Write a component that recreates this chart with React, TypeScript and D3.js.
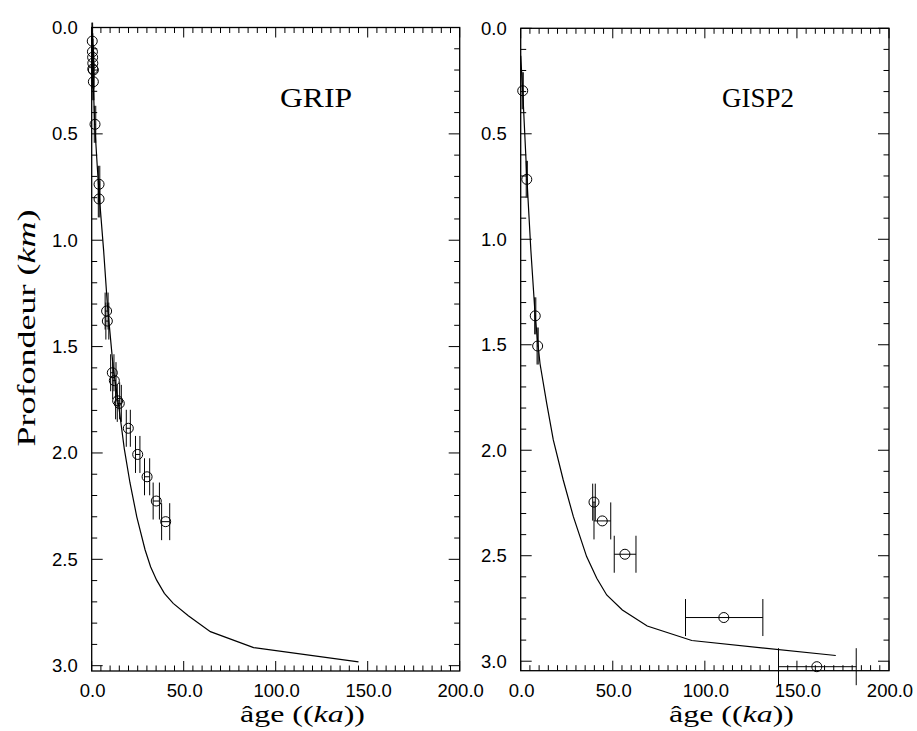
import React from "react";
import * as d3 from "d3";

// GRIP data (age ka, depth km, age error ka)
const gripAge = [0.3, 0.4, 0.5, 0.6, 0.6, 0.9, 0.9, 1.8, 4.0, 4.0, 8.1, 8.5, 11.2, 12.3, 14.1, 15.0, 19.9, 25.0, 30.1, 35.1, 40.2];
const gripDepth = [0.064, 0.114, 0.14, 0.168, 0.195, 0.2, 0.255, 0.455, 0.737, 0.806, 1.333, 1.38, 1.623, 1.66, 1.755, 1.767, 1.884, 2.007, 2.112, 2.226, 2.323];
const gripAgeErr = [0.2, 0.2, 0.2, 0.3, 0.3, 0.3, 0.3, 0.4, 0.4, 0.4, 0.8, 0.8, 0.9, 0.9, 1.1, 1.1, 1.1, 1.2, 1.4, 1.7, 2.2];
const gripModelAge = [0, 0.6, 1.6, 3.0, 4.2, 6.5, 8.5, 11.7, 15, 17.7, 20.8, 24.5, 29, 32, 35.3, 39.5, 44.3, 52.5, 64.5, 88, 145];
const gripModelDepth = [0, 0.2, 0.45, 0.65, 0.8, 1.05, 1.3, 1.6, 1.8, 1.98, 2.14, 2.3, 2.455, 2.535, 2.598, 2.66, 2.707, 2.765, 2.84, 2.915, 2.982];

// GISP2 data
const gispAge = [1.1, 3.3, 7.9, 9.2, 39.8, 44.3, 56.6, 110.3, 160.8];
const gispDepth = [0.296, 0.716, 1.363, 1.506, 2.246, 2.335, 2.493, 2.793, 3.026];
const gispAgeLo = [0.8, 3.0, 7.6, 8.9, 39.1, 39.8, 50.8, 89.5, 140];
const gispAgeHi = [1.4, 3.6, 8.2, 9.5, 40.5, 48.9, 62.6, 131.5, 182.2];
const gispModelAge = [0, 1.1, 3.3, 5.5, 8.0, 10.5, 14.1, 17.7, 23.1, 28.6, 35.8, 41.3, 46.7, 55.2, 68.7, 92.9, 171.1];
const gispModelDepth = [0.13, 0.3, 0.7, 1.05, 1.38, 1.59, 1.777, 1.951, 2.141, 2.315, 2.504, 2.607, 2.686, 2.757, 2.833, 2.902, 2.973];

const xMajorTicks = [0, 50, 100, 150, 200];
const yMajorTicks = [0, 0.5, 1.0, 1.5, 2.0, 2.5, 3.0];
const panelTitles = ["GRIP", "GISP2"];

type PanelProps = {
  x0: number; x1: number; y0: number; y1: number; yMax: number;
  pts: { a: number; d: number; lo: number; hi: number }[];
  model: [number, number][];
  title: string; titleX: number; labelX: number;
};

const SANS = "'Liberation Sans', Arial, sans-serif";
const SERIF = "'Liberation Serif', 'Times New Roman', serif";

function Panel(p: PanelProps) {
  const x = d3.scaleLinear().domain([0, 200]).range([p.x0, p.x1]);
  const y = d3.scaleLinear().domain([0, p.yMax]).range([p.y0, p.y1]);
  const line = d3.line<[number, number]>().x((d) => x(d[0])).y((d) => y(d[1]));
  const xMinor = d3.range(0, 200.001, 5);
  const yMinor = d3.range(0, 3.0001, 0.1);
  const isMajX = (v: number) => Math.abs(v / 50 - Math.round(v / 50)) < 1e-6;
  const isMajY = (v: number) => Math.abs(v / 0.5 - Math.round(v / 0.5)) < 1e-6;
  const cap = 18.5;
  return (
    <g>
      <rect x={p.x0} y={p.y0} width={p.x1 - p.x0} height={p.y1 - p.y0} fill="none" stroke="#000" strokeWidth={1.3} />
      {xMinor.map((v, i) => {
        const L = isMajX(v) ? 10 : 5.5;
        return (
          <g key={"xt" + i}>
            <line x1={x(v)} x2={x(v)} y1={p.y0} y2={p.y0 + L} stroke="#000" strokeWidth={1} />
            <line x1={x(v)} x2={x(v)} y1={p.y1} y2={p.y1 - L} stroke="#000" strokeWidth={1} />
          </g>
        );
      })}
      {yMinor.map((v, i) => {
        const L = isMajY(v) ? 11 : 5.5;
        return (
          <g key={"yt" + i}>
            <line x1={p.x0} x2={p.x0 + L} y1={y(v)} y2={y(v)} stroke="#000" strokeWidth={1} />
            <line x1={p.x1} x2={p.x1 - L} y1={y(v)} y2={y(v)} stroke="#000" strokeWidth={1} />
          </g>
        );
      })}
      {yMajorTicks.map((v, i) => (
        <text key={"yl" + i} x={p.x0 - 14} y={y(v) + 6.5} textAnchor="end" fontFamily={SANS} fontSize={18.5} fill="#000">
          {d3.format(".1f")(v)}
        </text>
      ))}
      {xMajorTicks.map((v, i) => (
        <text key={"xl" + i} x={x(v) + 1} y={697} textAnchor="middle" fontFamily={SANS} fontSize={18.5} fill="#000">
          {d3.format(".1f")(v)}
        </text>
      ))}
      <path d={line(p.model) || ""} fill="none" stroke="#000" strokeWidth={1.2} />
      {p.pts.map((d, i) => (
        <g key={"pt" + i}>
          <line x1={x(d.lo)} x2={x(d.hi)} y1={y(d.d)} y2={y(d.d)} stroke="#000" strokeWidth={1} />
          <line x1={x(d.lo)} x2={x(d.lo)} y1={y(d.d) - cap} y2={y(d.d) + cap} stroke="#000" strokeWidth={1} />
          <line x1={x(d.hi)} x2={x(d.hi)} y1={y(d.d) - cap} y2={y(d.d) + cap} stroke="#000" strokeWidth={1} />
          <circle cx={x(d.a)} cy={y(d.d)} r={5} fill="none" stroke="#000" strokeWidth={1} />
        </g>
      ))}
      <text x={p.titleX} y={107} fontFamily={SERIF} fontSize={28} textLength={72} lengthAdjust="spacingAndGlyphs" fill="#000">
        {p.title}
      </text>
      <text x={p.labelX} y={722} fontFamily={SERIF} fontSize={23} textLength={125} lengthAdjust="spacingAndGlyphs" fill="#000">
        âge ((<tspan fontStyle="italic">ka</tspan>))
      </text>
    </g>
  );
}

export default function App() {
  const gripPts = gripAge.map((a, i) => ({ a, d: gripDepth[i], lo: a - gripAgeErr[i], hi: a + gripAgeErr[i] }));
  const gispPts = gispAge.map((a, i) => ({ a, d: gispDepth[i], lo: gispAgeLo[i], hi: gispAgeHi[i] }));
  const gripModel = gripModelAge.map((a, i) => [a, gripModelDepth[i]] as [number, number]);
  const gispModel = gispModelAge.map((a, i) => [a, gispModelDepth[i]] as [number, number]);
  return (
    <svg width={917} height={731} style={{ position: "absolute", left: 0, top: 0, background: "#fff" }}>
      <rect x={0} y={0} width={917} height={731} fill="#fff" />
      <Panel x0={91.7} x1={459.7} y0={27.5} y1={671} yMax={3.025} pts={gripPts} model={gripModel}
        title={panelTitles[0]} titleX={280} labelX={240} />
      <Panel x0={520.7} x1={889} y0={28.3} y1={670.7} yMax={3.045} pts={gispPts} model={gispModel}
        title={panelTitles[1]} titleX={722} labelX={669} />
      <text transform="translate(35,328) rotate(-90)" textAnchor="middle" fontFamily={SERIF} fontSize={26}
        textLength={237} lengthAdjust="spacingAndGlyphs" fill="#000">
        Profondeur (<tspan fontStyle="italic">km</tspan>)
      </text>
    </svg>
  );
}
